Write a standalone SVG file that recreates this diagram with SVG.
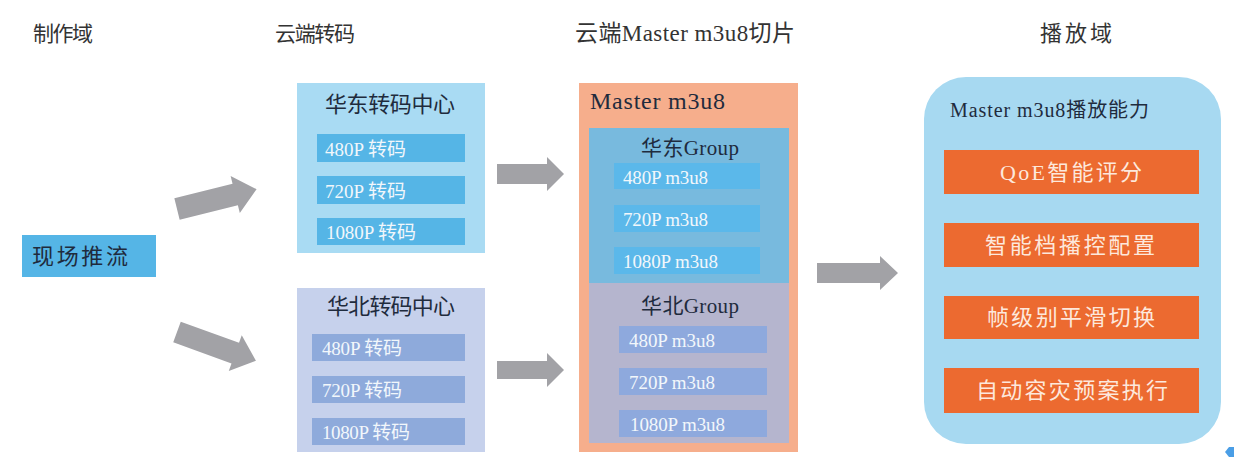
<svg xmlns="http://www.w3.org/2000/svg" width="1234" height="472" viewBox="0 0 1234 472">
<defs>
<style>
text{font-family:"Liberation Serif","Noto Sans CJK SC",serif}
.hd{font-size:21px;fill:#333}
.dk{fill:#1f2b3d}
.lt{fill:#f2f7fb;font-size:19px}
.or{fill:#fde8dc;font-size:22px;text-anchor:middle;font-family:"Liberation Serif","Noto Sans CJK SC",sans-serif}
.arr{fill:#a2a2a6}
</style>
</defs>
<rect width="1234" height="472" fill="#ffffff"/>

<g id="titles">
<text class="hd" x="33" y="41" textLength="60">制作域</text>
<text class="hd" x="275" y="41" textLength="80">云端转码</text>
<text class="hd" x="575" y="41" textLength="220" style="font-size:23px">云端Master m3u8切片</text>
<text class="hd" x="1040" y="41" textLength="72" style="font-size:22px">播放域</text>
</g>

<g id="source">
<rect x="22" y="235" width="134" height="42" fill="#55b5e6"/>
<text class="dk" x="32" y="264" font-size="22" textLength="96">现场推流</text>
</g>

<g id="east-transcode">
<rect x="297" y="83" width="188" height="170" fill="#a9dbf3"/>
<text class="dk" x="390" y="112" font-size="22" text-anchor="middle" textLength="130">华东转码中心</text>
<rect x="317" y="134" width="148" height="28" fill="#55b5e6"/>
<rect x="317" y="176" width="148" height="28" fill="#55b5e6"/>
<rect x="317" y="218" width="148" height="27" fill="#55b5e6"/>
<text class="lt" x="325" y="156" textLength="81">480P 转码</text>
<text class="lt" x="325" y="198" textLength="81">720P 转码</text>
<text class="lt" x="326" y="239" textLength="90">1080P 转码</text>
</g>

<g id="north-transcode">
<rect x="297" y="288" width="188" height="164" fill="#c6d1ec"/>
<text class="dk" x="391" y="314" font-size="22" text-anchor="middle" textLength="128">华北转码中心</text>
<rect x="312" y="334" width="153" height="27" fill="#8eaadb"/>
<rect x="312" y="376" width="153" height="27" fill="#8eaadb"/>
<rect x="312" y="418" width="153" height="27" fill="#8eaadb"/>
<text class="lt" x="322" y="355" textLength="80">480P 转码</text>
<text class="lt" x="322" y="397" textLength="80">720P 转码</text>
<text class="lt" x="322" y="439" textLength="88">1080P 转码</text>
</g>

<g id="master-m3u8">
<rect x="579" y="83" width="219" height="369" fill="#f6ae8c"/>
<text class="dk" x="590" y="109" font-size="24" textLength="135">Master  m3u8</text>
</g>

<g id="east-group">
<rect x="589" y="128" width="200" height="155" fill="#78bade"/>
<text class="dk" x="690" y="155" font-size="21" text-anchor="middle" textLength="98">华东Group</text>
<rect x="614" y="163" width="146" height="26" fill="#5bb8ea"/>
<rect x="614" y="205" width="146" height="27" fill="#5bb8ea"/>
<rect x="614" y="247" width="146" height="27" fill="#5bb8ea"/>
<text class="lt" x="623" y="184" textLength="85">480P m3u8</text>
<text class="lt" x="623" y="226" textLength="85">720P m3u8</text>
<text class="lt" x="623" y="268" textLength="95">1080P m3u8</text>
</g>

<g id="north-group">
<rect x="589" y="283" width="200" height="160" fill="#b5b5ce"/>
<text class="dk" x="690" y="313" font-size="21" text-anchor="middle" textLength="98">华北Group</text>
<rect x="619" y="326" width="148" height="27" fill="#8ea9dd"/>
<rect x="619" y="368" width="148" height="27" fill="#8ea9dd"/>
<rect x="619" y="410" width="148" height="27" fill="#8ea9dd"/>
<text class="lt" x="629" y="347" textLength="86">480P m3u8</text>
<text class="lt" x="629" y="389" textLength="86">720P m3u8</text>
<text class="lt" x="630" y="431" textLength="95">1080P m3u8</text>
</g>

<g id="playback">
<rect x="924" y="77" width="297" height="367" rx="42" ry="42" fill="#a7d9f1"/>
<text class="dk" x="950" y="117" font-size="20" textLength="199">Master m3u8播放能力</text>
<rect x="944" y="150" width="255" height="44" fill="#ec6a30"/>
<rect x="944" y="223" width="255" height="44" fill="#ec6a30"/>
<rect x="944" y="296" width="255" height="43" fill="#ec6a30"/>
<rect x="944" y="368" width="255" height="45" fill="#ec6a30"/>
<text class="or" x="1071" y="180" textLength="142">QoE智能评分</text>
<text class="or" x="1070" y="253" textLength="170">智能档播控配置</text>
<text class="or" x="1071" y="325" textLength="168">帧级别平滑切换</text>
<text class="or" x="1072" y="398" textLength="192">自动容灾预案执行</text>
</g>

<g id="connectors">
<polygon class="arr" transform="translate(177,209) rotate(-14)" points="0,-11 60,-11 60,-19 82,0 60,19 60,11 0,11"/>
<polygon class="arr" transform="translate(177,332) rotate(20)" points="0,-11 62,-11 62,-19 84,0 62,19 62,11 0,11"/>
<polygon class="arr" transform="translate(497,174)" points="0,-10 50,-10 50,-17 67,0 50,17 50,10 0,10"/>
<polygon class="arr" transform="translate(497,370)" points="0,-9 50,-9 50,-17 67,0 50,17 50,9 0,9"/>
<polygon class="arr" transform="translate(817,273)" points="0,-10 63,-10 63,-17 81,0 63,17 63,10 0,10"/>
</g>

<polygon points="1229,447 1225,452 1229,457 1234,457 1234,447" fill="#4a9ee6"/>
</svg>
